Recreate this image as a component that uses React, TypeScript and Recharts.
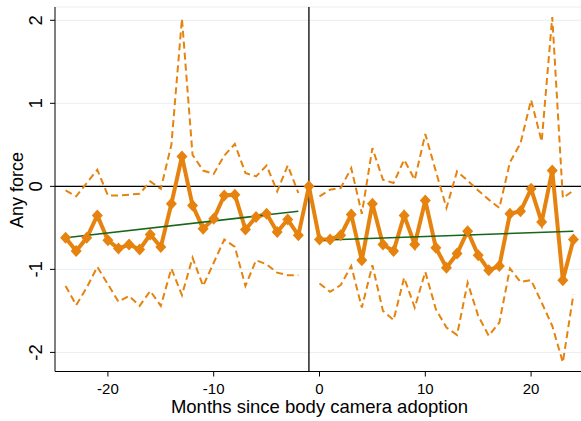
import React from 'react';
import {
  LineChart,
  Line,
  XAxis,
  YAxis,
  CartesianGrid,
  ReferenceLine,
  Label,
} from 'recharts';

const months = [
  -24, -23, -22, -21, -20, -19, -18, -17, -16, -15, -14, -13, -12, -11, -10, -9, -8, -7, -6, -5, -4, -3, -2, -1,
  0, 1, 2, 3, 4, 5, 6, 7, 8, 9, 10, 11, 12, 13, 14, 15, 16, 17, 18, 19, 20, 21, 22, 23, 24,
];

// point estimates
const estimate = [
  -0.62, -0.78, -0.62, -0.35, -0.65, -0.75, -0.7, -0.76, -0.58, -0.73, -0.21, 0.36, -0.23, -0.51, -0.39, -0.11,
  -0.1, -0.52, -0.37, -0.33, -0.55, -0.4, -0.59, 0,
  -0.64, -0.64, -0.59, -0.34, -0.89, -0.21, -0.7, -0.78, -0.35, -0.7, -0.17, -0.74, -0.98, -0.81, -0.54, -0.83,
  -1.01, -0.96, -0.33, -0.3, -0.03, -0.43, 0.19, -1.13, -0.64,
];

// 95% CI bounds (none for the reference month)
const upper = [
  -0.05, -0.12, 0.04, 0.2, -0.11, -0.11, -0.1, -0.09, 0.06, -0.03, 0.5, 2.02, 0.38, 0.19, 0.15, 0.37, 0.51, 0.16,
  0.12, 0.25, -0.06, 0.25, -0.08, null,
  -0.12, -0.04, -0.02, 0.22, -0.33, 0.46, 0.08, 0.04, 0.32, 0.08, 0.63, 0.18, -0.26, 0.18, 0.07, -0.05, -0.16,
  -0.26, 0.29, 0.52, 1.04, 0.54, 2.04, -0.14, -0.05,
];

const lower = [
  -1.2, -1.43, -1.22, -0.97, -1.18, -1.39, -1.32, -1.44, -1.26, -1.44, -0.99, -1.31, -0.86, -1.2, -0.92, -0.64,
  -0.73, -1.2, -0.89, -0.94, -1.04, -1.07, -1.07, null,
  -1.17, -1.27, -1.19, -0.96, -1.46, -0.95, -1.5, -1.61, -1.1, -1.46, -1.03, -1.48, -1.7, -1.79, -1.16, -1.56,
  -1.8, -1.64, -0.99, -1.15, -1.13, -1.4, -1.68, -2.12, -1.3,
];

// linear fit endpoints, before and after adoption
const fitPre = [
  { month: -24, value: -0.62 },
  { month: -2, value: -0.3 },
];
const fitPost = [
  { month: 0, value: -0.65 },
  { month: 24, value: -0.54 },
];

const xTicks = [-20, -10, 0, 10, 20];
const yTicks = [-2, -1, 0, 1, 2];

const ORANGE = '#e6830f';
const GREEN = '#17661a';
const FONT = '"Liberation Sans", Arial, Helvetica, sans-serif';

const rows = months.map((m, i) => {
  const pre = fitPre.find((f) => f.month === m);
  const post = fitPost.find((f) => f.month === m);
  return {
    month: m,
    est: estimate[i],
    hi: upper[i],
    lo: lower[i],
    fitPre: pre ? pre.value : null,
    fitPost: post ? post.value : null,
  };
});

function Diamond(props: any) {
  const { cx, cy, index } = props;
  if (cx == null || cy == null) return <g key={`d-${index}`} />;
  const w = 5.5;
  const h = 6;
  return (
    <polygon
      key={`d-${index}`}
      points={`${cx},${cy - h} ${cx + w},${cy} ${cx},${cy + h} ${cx - w},${cy}`}
      fill={ORANGE}
    />
  );
}

function YTick(props: any) {
  const { x, y, payload } = props;
  return (
    <text
      x={x}
      y={y}
      transform={`rotate(-90 ${x} ${y})`}
      textAnchor="middle"
      fontSize={18.5}
      fontFamily={FONT}
      fill="#000"
    >
      {payload.value}
    </text>
  );
}

export default function App() {
  return (
    <div
      style={{
        position: 'absolute',
        left: 0,
        top: 0,
        width: 581,
        height: 421,
        overflow: 'hidden',
        background: '#fff',
      }}
    >
      <LineChart
        width={600}
        height={421}
        data={rows}
        margin={{ top: 7, right: 16, left: 0, bottom: 0 }}
      >
        <CartesianGrid vertical={false} stroke="#e6eff1" strokeWidth={1} />
        <XAxis
          dataKey="month"
          type="number"
          domain={[-25, 25]}
          ticks={xTicks}
          height={49.5}
          tickSize={5}
          tickMargin={7}
          stroke="#000"
          tick={{ fontSize: 15, fontFamily: FONT, fill: '#000' }}
        >
          <Label
            value="Months since body camera adoption"
            position="insideBottom"
            offset={8.5}
            style={{ fontSize: 18.5, fontFamily: FONT, fill: '#000' }}
          />
        </XAxis>
        <YAxis
          type="number"
          domain={[-2.23, 2.16]}
          ticks={yTicks}
          width={55}
          tickSize={5}
          tickMargin={8}
          stroke="#000"
          tick={<YTick />}
          allowDataOverflow
        >
          <Label
            content={() => (
              <text
                x={23}
                y={190}
                transform="rotate(-90 23 190)"
                textAnchor="middle"
                fontSize={18}
                fontFamily={FONT}
                fill="#000"
              >
                Any force
              </text>
            )}
          />
        </YAxis>
        <ReferenceLine y={0} stroke="#000" strokeWidth={1.3} />
        <ReferenceLine x={-1} stroke="#000" strokeWidth={1.3} />
        <Line
          dataKey="hi"
          stroke={ORANGE}
          strokeWidth={2}
          strokeDasharray="7 4"
          dot={false}
          connectNulls={false}
          isAnimationActive={false}
        />
        <Line
          dataKey="lo"
          stroke={ORANGE}
          strokeWidth={2}
          strokeDasharray="7 4"
          dot={false}
          connectNulls={false}
          isAnimationActive={false}
        />
        <Line
          dataKey="est"
          stroke={ORANGE}
          strokeWidth={4}
          strokeLinejoin="miter"
          dot={<Diamond />}
          activeDot={false}
          isAnimationActive={false}
        />
        <Line
          dataKey="fitPre"
          stroke={GREEN}
          strokeWidth={1.6}
          dot={false}
          connectNulls
          isAnimationActive={false}
        />
        <Line
          dataKey="fitPost"
          stroke={GREEN}
          strokeWidth={1.6}
          dot={false}
          connectNulls
          isAnimationActive={false}
        />
      </LineChart>
    </div>
  );
}
